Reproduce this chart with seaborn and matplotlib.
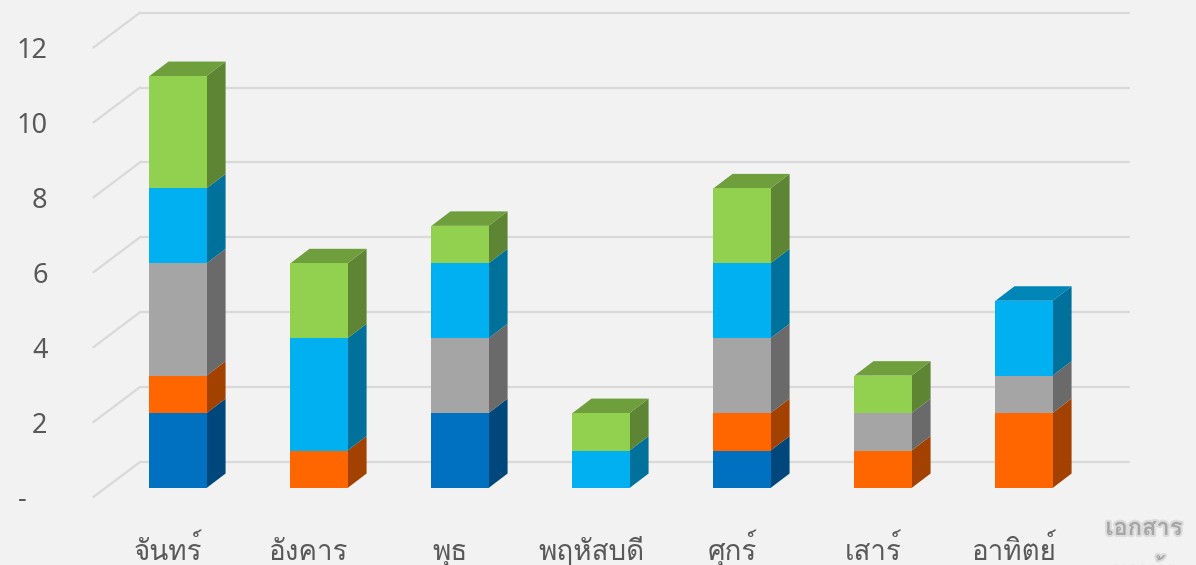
import matplotlib
matplotlib.use("Agg")
import numpy as np
import pandas as pd
import matplotlib.pyplot as plt
import matplotlib.patheffects as pe
import seaborn as sns
from matplotlib import font_manager
from matplotlib.ft2font import FT2Font
from matplotlib.patches import Polygon
from matplotlib.colors import to_rgb

# --- Data ---
days = ["จันทร์", "อังคาร", "พุธ", "พฤหัสบดี", "ศุกร์", "เสาร์", "อาทิตย์"]
series = ["s1", "s2", "s3", "s4", "s5"]
s1 = [2, 0, 2, 0, 1, 0, 0]   # dark blue
s2 = [1, 1, 0, 0, 1, 1, 2]   # orange
s3 = [3, 0, 2, 0, 2, 1, 1]   # gray
s4 = [2, 3, 2, 1, 2, 0, 2]   # light blue
s5 = [3, 2, 1, 1, 2, 1, 0]   # green
y_ticks = [0, 2, 4, 6, 8, 10, 12]
y_tick_labels = ["-   ", "2", "4", "6", "8", "10", "12"]
legend_lines = ["เอกสาร", "ขาเข้า"]

colors = ["#0070C0", "#FF6600", "#A5A5A5", "#00B0F0", "#92D050"]
BG = "#F2F2F2"
GRID = "#D9D9D9"
TEXT = "#595959"

# --- Fake 3D geometry (data units) ---
BAR_W = 0.405
DEPTH_X, DEPTH_Y = 0.135, 0.387          # bar depth offset
FLOOR_X, FLOOR_Y = -0.60, -0.24          # front-left corner of the floor
WALL_X, WALL_Y = -0.27, 0.694            # back wall left edge / lift
WALL_RIGHT = 6.745


def shade(c, f):
    return tuple(np.clip(np.array(to_rgb(c)) * f, 0, 1))


def find_thai_font():
    for f in font_manager.fontManager.ttflist:
        try:
            if 0x0E08 in FT2Font(f.fname).get_charmap():
                return f.name
        except Exception:
            pass
    return "DejaVu Sans"


sns.set_theme(style="white")
thai = find_thai_font()
plt.rcParams["font.family"] = [thai, "DejaVu Sans"]

df = pd.DataFrame({"day": days, "s1": s1, "s2": s2, "s3": s3, "s4": s4, "s5": s5})
cum = df[series].cumsum(axis=1)

fig = plt.figure(figsize=(11.96, 5.65), dpi=100, facecolor=BG)
ax = fig.add_axes([60 / 1196, 45 / 565, 1136 / 1196, 520 / 565])
ax.set_facecolor(BG)

# back wall gridlines + left diagonals
for v in y_ticks:
    ax.plot([WALL_X, WALL_RIGHT], [v + WALL_Y, v + WALL_Y], color=GRID, lw=1.6, zorder=1)
    ax.plot([FLOOR_X, WALL_X], [v + FLOOR_Y, v + WALL_Y], color=GRID, lw=1.6, zorder=1)

# front faces: cumulative totals drawn from the top series down
for k in range(len(series) - 1, -1, -1):
    sns.barplot(x=df["day"], y=cum[series[k]], order=days, color=colors[k], width=BAR_W,
                saturation=1, errorbar=None, edgecolor="none", linewidth=0, ax=ax, zorder=3)

# side and top faces
for i in range(len(days)):
    xr = i + BAR_W / 2
    xl = i - BAR_W / 2
    bottom = 0
    top_color = None
    for k, s in enumerate(series):
        h = df.loc[i, s]
        if h <= 0:
            continue
        t = bottom + h
        ax.add_patch(Polygon([(xr, bottom), (xr + DEPTH_X, bottom + DEPTH_Y),
                              (xr + DEPTH_X, t + DEPTH_Y), (xr, t)],
                             closed=True, facecolor=shade(colors[k], 0.64), edgecolor="none", zorder=2))
        bottom = t
        top_color = colors[k]
    if top_color is not None:
        ax.add_patch(Polygon([(xl, bottom), (xl + DEPTH_X, bottom + DEPTH_Y),
                              (xr + DEPTH_X, bottom + DEPTH_Y), (xr, bottom)],
                             closed=True, facecolor=shade(top_color, 0.76), edgecolor="none", zorder=2))

ax.set_xlim((60 - 178) / 141, (1196 - 178) / 141)
ax.set_ylim((488 - 520) / 37.45, 488 / 37.45)
for sp in ax.spines.values():
    sp.set_visible(False)
ax.set_xlabel("")
ax.set_ylabel("")

ax.set_yticks([v + FLOOR_Y for v in y_ticks])
ax.set_yticklabels(y_tick_labels, family=["Noto Sans", thai, "DejaVu Sans"])
ax.set_xticks([i - 0.07 for i in range(len(days))])
ax.set_xticklabels(days)
ax.tick_params(axis="y", length=0, pad=9, labelsize=19.5, labelcolor=TEXT)
ax.tick_params(axis="x", length=0, pad=29, labelsize=20, labelcolor=TEXT)
for lbl in ax.get_xticklabels():
    lbl.set_va("baseline")

# legend entry, cut off by the bottom edge as in the original
glow = [pe.withStroke(linewidth=3, foreground="#DCDCDC")]
fig.text(1144 / 1196, 1 - 535 / 565, legend_lines[0], ha="center", va="baseline",
         fontsize=17, fontweight="bold", color="#A6A6A6", path_effects=glow)
fig.text(1144 / 1196, 1 - 580 / 565, legend_lines[1], ha="center", va="baseline",
         fontsize=17, fontweight="bold", color="#A6A6A6", path_effects=glow)

fig.savefig("out.png", dpi=100, facecolor=BG)
